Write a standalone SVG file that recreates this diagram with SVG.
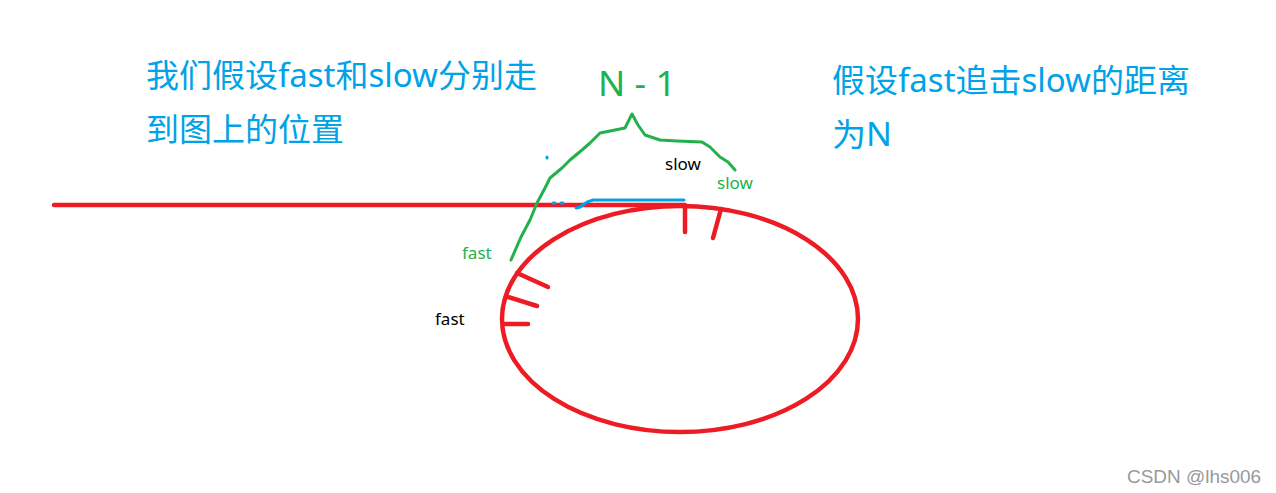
<svg xmlns="http://www.w3.org/2000/svg" width="1276" height="493" viewBox="0 0 1276 493">
<style>
.red{fill:none;stroke:#ed1c24;stroke-width:4.5;stroke-linecap:round;stroke-linejoin:round}
.green{fill:none;stroke:#22b14c;stroke-width:3;stroke-linejoin:round;stroke-linecap:round}
.blue{fill:none;stroke:#00a2e8;stroke-width:3;stroke-linecap:round}
.big{font-family:"Noto Sans","Noto Sans CJK SC",sans-serif;font-size:32px;fill:#00a2e8}
.lbl{font-family:"Noto Sans",sans-serif;font-size:17px}
</style>
<rect width="1276" height="493" fill="#ffffff"/>
<g id="loop">
<line class="red" x1="54" y1="205" x2="685" y2="205"/>
<ellipse class="red" cx="680" cy="319" rx="178" ry="113"/>
<line class="red" x1="685" y1="206" x2="685" y2="232"/>
<line class="red" x1="721" y1="209" x2="713" y2="238"/>
<line class="red" x1="517" y1="273" x2="548" y2="287"/>
<line class="red" x1="508" y1="297" x2="537" y2="306"/>
<line class="red" x1="505" y1="324" x2="528" y2="324"/>
</g>
<g id="connectors">
<path class="green" d="M511,260 L521,237 L530,220 L537,203 L545,188 L550,178 L562,168 L570,160 L582,150 L590,143 L600,133 L610,131 L625,128 L632,114 L638,125 L645,135 L660,140 L677,141 L702,142 L710,147 L720,157 L728,162 L735,170"/>
<path class="blue" d="M576,208 L580,207 L587,202 L593,200 L684,200"/>
<line class="blue" x1="553" y1="203" x2="555" y2="203"/>
<line class="blue" x1="561" y1="203" x2="563" y2="203"/>
<line class="blue" x1="547" y1="157" x2="547" y2="158" stroke-width="1.5"/>
</g>
<g id="text-left">
<text class="big" x="146" y="87" textLength="391" lengthAdjust="spacingAndGlyphs">我们假设fast和slow分别走</text>
<text class="big" x="146" y="141" textLength="198" lengthAdjust="spacingAndGlyphs">到图上的位置</text>
</g>
<g id="text-right">
<text class="big" x="832" y="92" textLength="358" lengthAdjust="spacingAndGlyphs">假设fast追击slow的距离</text>
<text class="big" x="832" y="146" textLength="60" lengthAdjust="spacingAndGlyphs">为N</text>
</g>
<g id="n-label">
<text x="598" y="96" font-family="'Noto Sans',sans-serif" font-size="35" fill="#22b14c" textLength="78" lengthAdjust="spacingAndGlyphs">N - 1</text>
</g>
<g id="labels">
<text class="lbl" x="665" y="170" fill="#000">slow</text>
<text class="lbl" x="717" y="189" fill="#22b14c">slow</text>
<text class="lbl" x="462" y="259" fill="#22b14c">fast</text>
<text class="lbl" x="435" y="325" fill="#000">fast</text>
</g>
<g id="watermark">
<text x="1127" y="483" font-family="'Liberation Sans',sans-serif" font-size="18" fill="#999999" textLength="134" lengthAdjust="spacingAndGlyphs">CSDN @lhs006</text>
</g>
</svg>
